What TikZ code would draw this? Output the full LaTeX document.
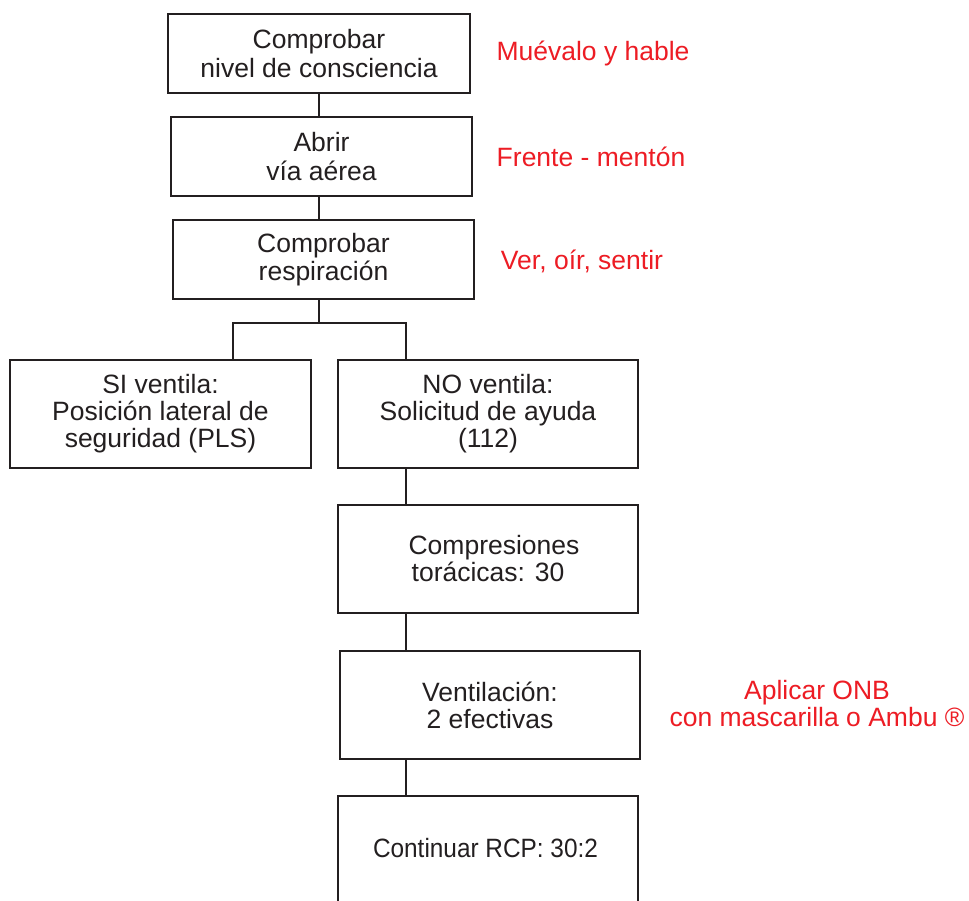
\documentclass[tikz,border=0pt]{standalone}
\usepackage{fontspec}
\usepackage{graphicx}
\setmainfont{Liberation Sans}
\definecolor{redtxt}{RGB}{237,28,36}
\definecolor{inkline}{RGB}{35,31,32}
\begin{document}
\begin{tikzpicture}[x=1pt,y=-1pt,
  box/.style={draw=inkline,line width=2.6pt,rectangle,inner sep=0pt,align=center,
    text=inkline,font=\fontsize{26.5}{28.5}\selectfont},
  boxb/.style={box,font=\fontsize{26.5}{27}\selectfont},
  note/.style={text=redtxt,align=center,inner sep=0pt,font=\fontsize{26.5}{27}\selectfont},
  link/.style={draw=inkline,line width=2.6pt}]
\useasboundingbox (0,0) rectangle (969,900);
\fill[white] (0,0) rectangle (969,900);
\node[box,minimum width=302pt,minimum height=79pt] (b1) at (319,53.5) {Comprobar\\nivel de consciencia};
\node[box,minimum width=301pt,minimum height=79pt] (b2) at (321.5,156.5) {Abrir\\vía aérea};
\node[box,minimum width=301pt,minimum height=79pt] (b3) at (323.5,259.5) {Comprobar\\respiración};
\node[boxb,minimum width=301pt,minimum height=108pt] (si) at (160.5,414) {SI ventila:\\Posición lateral de\\seguridad (PLS)};
\node[boxb,minimum width=300pt,minimum height=108pt] (no) at (488,414) {NO ventila:\\Solicitud de ayuda\\(112)};
\node[boxb,minimum width=300pt,minimum height=108pt] (comp) at (488,559) {\hspace*{12pt}Compresiones\\torácicas: 30};
\node[boxb,minimum width=300pt,minimum height=108pt] (vent) at (490,705) {Ventilación:\\2 efectivas};
\node[boxb,minimum width=300pt,minimum height=140pt] (cont) at (488,866) {};
\node[inner sep=0pt,text=inkline,font=\fontsize{26.5}{27}\selectfont] (conttxt) at (485.5,848) {\scalebox{0.92}[1]{Continuar RCP: 30:2}};

\node[note] (n1) at (593,53) {Muévalo y hable};
\node[note] (n2) at (591,157) {Frente - mentón};
\node[note] (n3) at (582,261) {Ver, oír, sentir};
\node[note] (n4) at (817,704) {Aplicar ONB\\con mascarilla o Ambu ®};

\coordinate (j) at (319,323);
\coordinate (jl) at (233,323);
\coordinate (jr) at (406,323);
\draw[link] (b1.south) -- (b1.south |- b2.north);
\draw[link] (b1.south |- b2.south) -- (b1.south |- b3.north);
\draw[link] (j |- b3.south) -- (j);
\draw[link] (jl |- si.north) -- (jl) -- (jr) -- (jr |- no.north);
\draw[link] (jr |- no.south) -- (jr |- comp.north);
\draw[link] (jr |- comp.south) -- (jr |- vent.north);
\draw[link] (jr |- vent.south) -- (jr |- cont.north);
\end{tikzpicture}
\end{document}
